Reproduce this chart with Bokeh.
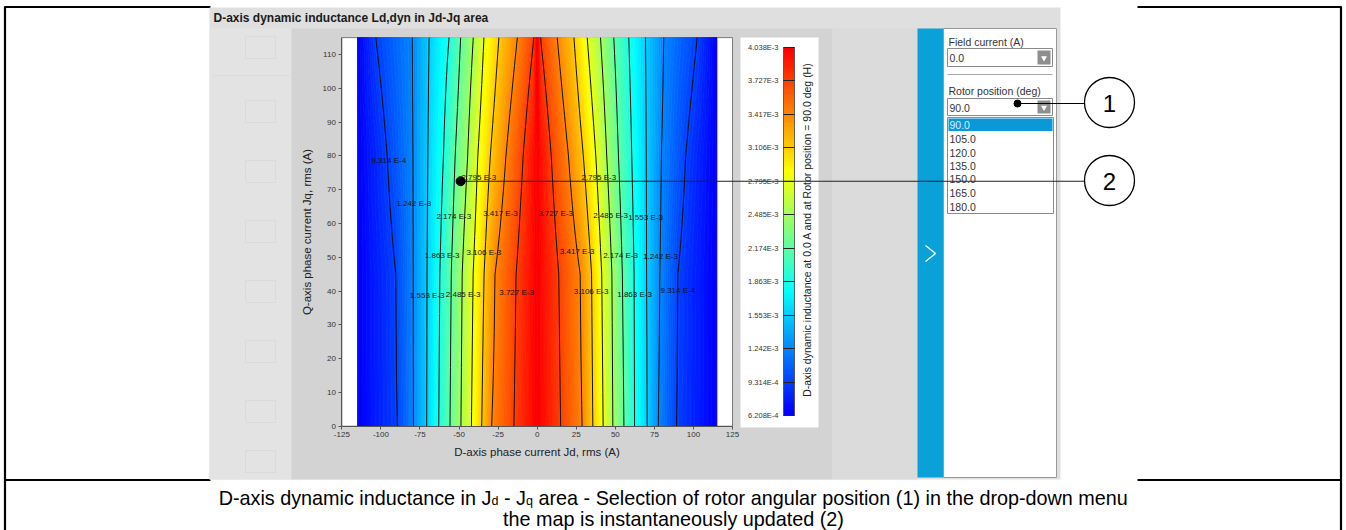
import numpy as np
from bokeh.plotting import figure
from bokeh.models import (Range1d, LinearAxis, FixedTicker, CustomJSTickFormatter,
                          LinearColorMapper, ColumnDataSource)
from bokeh.transform import linear_cmap
from bokeh.plotting.contour import contour_data
from bokeh.core.properties import value
from bokeh.embed import file_html
from bokeh.resources import INLINE

# ----------------------------- data -----------------------------
chart_title = "D-axis dynamic inductance Ld,dyn in Jd-Jq area"
x_label = "D-axis phase current Jd, rms (A)"
y_label = "Q-axis phase current Jq, rms (A)"
cb_label = "D-axis dynamic inductance at 0.0 A and at Rotor position = 90.0 deg (H)"

jd_ticks = [-125, -100, -75, -50, -25, 0, 25, 50, 75, 100, 125]
jq_ticks = [0, 10, 20, 30, 40, 50, 60, 70, 80, 90, 100, 110]

cb_levels = [6.208e-4, 9.314e-4, 1.242e-3, 1.553e-3, 1.863e-3, 2.174e-3,
             2.485e-3, 2.795e-3, 3.106e-3, 3.417e-3, 3.727e-3, 4.038e-3]
line_levels = cb_levels[1:-1]

jd_min, jd_max = -115.0, 115.0
jq_rows = [0.0, 45.0, 80.0, 115.0]
# Jd where each contour line (in line_levels order, outer -> inner) crosses each row
left_cross = [
    [-89.5, -79.2, -70.7, -63.0, -55.8, -48.8, -42.1, -35.5, -29.2, -14.9],
    [-90.5, -79.3, -70.5, -62.3, -55.0, -48.0, -41.0, -34.0, -27.0, -13.5],
    [-96.0, -79.5, -70.0, -60.0, -52.5, -44.5, -38.0, -30.0, -20.0, -9.0],
    [-103.3, -79.9, -69.2, -56.4, -49.0, -40.9, -34.1, -24.5, -12.7, -2.1],
]
right_cross = [
    [89.1, 77.5, 70.4, 62.3, 55.5, 48.4, 42.2, 35.6, 28.8, 15.0],
    [90.0, 78.5, 70.0, 62.0, 54.5, 47.8, 41.3, 34.8, 27.5, 13.8],
    [95.0, 79.5, 69.8, 60.5, 52.0, 44.5, 37.5, 29.5, 20.0, 9.0],
    [102.4, 81.0, 69.3, 58.6, 49.0, 40.5, 32.0, 23.5, 12.8, 2.1],
]
edge_value = [6.208e-4, 6.208e-4, 6.208e-4, 6.208e-4]
ridge_value = [4.038e-3, 4.038e-3, 4.038e-3, 4.038e-3]

label_jd = [-95.0, -37.4, 39.4, -79.0, -53.4, -23.5, 11.7, 46.9, 69.3, -60.8,
            -34.2, 25.6, 53.3, 78.9, -70.4, -47.4, -13.2, 34.5, 62.3, 90.0]
label_jq = [78.6, 73.7, 73.7, 65.8, 62.2, 63.0, 63.0, 62.4, 61.7, 50.5,
            51.5, 51.8, 50.5, 50.3, 38.7, 39.0, 39.7, 39.9, 39.0, 40.2]
label_text = ["9.314 E-4", "2.795 E-3", "2.795 E-3", "1.242 E-3", "2.174 E-3",
              "3.417 E-3", "3.727 E-3", "2.485 E-3", "1.553 E-3", "1.863 E-3",
              "3.106 E-3", "3.417 E-3", "2.174 E-3", "1.242 E-3", "1.553 E-3",
              "2.485 E-3", "3.727 E-3", "3.106 E-3", "1.863 E-3", "9.314 E-4"]

sel_jd, sel_jq = -49.0, 72.5

field_label = "Field current (A)"
field_value = "0.0"
rotor_label = "Rotor position (deg)"
rotor_value = "90.0"
rotor_options = ["90.0", "105.0", "120.0", "135.0", "150.0", "165.0", "180.0"]

cap1_a = "D-axis dynamic inductance in J"
cap1_sub1 = "d"
cap1_b = " - J"
cap1_sub2 = "q"
cap1_c = " area - Selection of rotor angular position (1) in the drop-down menu"
cap2 = "the map is instantaneously updated (2)"

# ----------------------------- layout constants -----------------------------
W, H = 1346, 530
SX, X0 = 1.5627, 536.7      # px per A, pixel column of Jd = 0
SY, Y0 = 3.379, 425.7       # px per A, pixel row of Jq = 0
CB_LO_PX, CB_HI_PX = 415.0, 47.0
SC = (CB_LO_PX - CB_HI_PX) / (cb_levels[-1] - cb_levels[0])
FONT = "Liberation Sans"

def jet(u):
    r = min(max(1.5 - abs(4 * u - 3), 0), 1)
    g = min(max(1.5 - abs(4 * u - 2), 0), 1)
    b = min(max(1.5 - abs(4 * u - 1), 0), 1)
    return "#%02x%02x%02x" % (int(r * 255), int(g * 255), int(b * 255))

palette = [jet(0.12 + 0.76 * i / 255) for i in range(256)]
lo, hi = cb_levels[0], cb_levels[-1]

p = figure(width=W, height=H, x_range=Range1d(0, W), y_range=Range1d(H, 0),
           output_backend="svg", toolbar_location=None, tools="",
           x_axis_location=None, y_axis_location=None, min_border=0,
           outline_line_color=None, background_fill_color="white",
           border_fill_color="white")
p.grid.visible = False
p.extra_x_ranges = {"jd": Range1d(-X0 / SX, (W - X0) / SX)}
p.extra_y_ranges = {"jq": Range1d((Y0 - H) / SY, Y0 / SY),
                    "cb": Range1d(lo - (H - CB_LO_PX) / SC, lo + CB_LO_PX / SC)}

def txt(x, y, s, size, color="#222222", align="left", baseline="middle", style="normal", angle=0.0, **kw):
    p.text(x=x, y=y, text=s, text_font=value(FONT), text_font_size=size,
           text_color=color, text_align=align, text_baseline=baseline,
           text_font_style=style, angle=angle, **kw)

# ----------------------------- document frame -----------------------------
p.segment(x0=[4, 1137, 4.5, 1340.5, 4, 1137], y0=[6.5, 6.5, 6, 6, 479.5, 479.5],
          x1=[210, 1341, 4.5, 1340.5, 210, 1341], y1=[6.5, 6.5, 530, 530, 479.5, 479.5],
          line_color="black", line_width=2.2)

# ----------------------------- screenshot background -----------------------------
p.quad(left=[209, 209, 291, 832], right=[1060, 291, 832, 917],
       top=[7, 28, 28, 28], bottom=[479, 479, 479, 479],
       fill_color=["#dfdfdf", "#e3e3e3", "#d3d3d3", "#dbdbdb"], line_color=None)
txt([213], [17.5], [chart_title], "12px", color="#1a1a1a", style="bold")

# faint ghost icons of the hidden tool panel
ghost_y = [48, 112, 172, 232, 292, 352, 412, 462]
p.quad(left=[245] * 8, right=[275] * 8, top=[g - 12 for g in ghost_y],
       bottom=[g + 10 for g in ghost_y], fill_color=None, line_color="#dadada", line_width=1)
p.segment(x0=[212], y0=[75], x1=[289], y1=[75], line_color="#dbdbdb", line_width=1)

# colour-bar box
p.quad(left=[740], right=[818], top=[37], bottom=[427], fill_color="white", line_color=None)

# chart frame (white plotting area)
p.quad(left=[-125], right=[125], bottom=[0], top=[115], fill_color="white",
       line_color="#7a7a7a", line_width=1, x_range_name="jd", y_range_name="jq")

# ----------------------------- contour map -----------------------------
xs = np.linspace(jd_min, jd_max, 461)
ys = np.array(jq_rows)
z = np.array([np.interp(xs, [jd_min] + lc + [0.0] + rc[::-1] + [jd_max],
                        [ev] + line_levels + [rv] + line_levels[::-1] + [ev])
              for lc, rc, ev, rv in zip(left_cross, right_cross, edge_value, ridge_value)])

fill_levels = np.linspace(6.0e-4, 4.06e-3, 110)
fd = contour_data(xs, ys, z, fill_levels, want_fill=True, want_line=False).fill_data
mid = (np.asarray(fd.lower_levels) + np.asarray(fd.upper_levels)) / 2
fsrc = ColumnDataSource(dict(xs=fd.xs, ys=fd.ys, mid=mid))
cmap = linear_cmap("mid", palette, lo, hi)
p.multi_polygons(xs="xs", ys="ys", source=fsrc, fill_color=cmap, line_color=cmap,
                 line_width=0.8, x_range_name="jd", y_range_name="jq")

ld = contour_data(xs, ys, z, line_levels, want_fill=False, want_line=True).line_data
p.multi_line(xs=list(ld.xs), ys=list(ld.ys), line_color="#111111", line_width=1.0,
             x_range_name="jd", y_range_name="jq")

txt(label_jd, label_jq, label_text, "8px", color="#111111", align="center",
    x_range_name="jd", y_range_name="jq")

# chart axes
plain = CustomJSTickFormatter(code="return tick.toString();")

def style_axis(ax, tick_fs, label_fs):
    ax.major_label_text_font = FONT
    ax.major_label_text_font_size = tick_fs
    ax.major_label_text_color = "#333333"
    ax.axis_label_text_font = FONT
    ax.axis_label_text_font_size = label_fs
    ax.axis_label_text_font_style = "normal"
    ax.axis_label_text_color = "#222222"
    ax.minor_tick_line_color = None
    ax.major_tick_in = 0
    ax.major_tick_out = 3
    ax.axis_line_color = "#555555"
    ax.major_tick_line_color = "#555555"

xaxis = LinearAxis(x_range_name="jd", y_range_name="jq", fixed_location=0,
                   bounds=(-125, 125), ticker=FixedTicker(ticks=jd_ticks),
                   formatter=plain, axis_label=x_label)
style_axis(xaxis, "8px", "11.5px")
xaxis.major_label_standoff = 3
xaxis.axis_label_standoff = 5
p.add_layout(xaxis, "below")

yaxis = LinearAxis(x_range_name="jd", y_range_name="jq", fixed_location=-125,
                   bounds=(0, 115), ticker=FixedTicker(ticks=jq_ticks),
                   formatter=plain, axis_label=y_label)
style_axis(yaxis, "8px", "11.5px")
yaxis.major_label_standoff = 3
yaxis.axis_label_standoff = 6
p.add_layout(yaxis, "left")

# ----------------------------- colour bar -----------------------------
mapper = LinearColorMapper(palette=palette, low=lo, high=hi)
grad = np.linspace(lo, hi, 256).reshape(-1, 1)
p.image(image=[grad], x=783, y=lo, dw=11, dh=hi - lo, color_mapper=mapper,
        y_range_name="cb")
p.quad(left=[783], right=[794], bottom=[lo], top=[hi], fill_color=None,
       line_color="#444444", line_width=0.8, y_range_name="cb")
cbaxis = LinearAxis(y_range_name="cb", fixed_location=783, bounds=(lo, hi),
                    ticker=FixedTicker(ticks=cb_levels),
                    formatter=CustomJSTickFormatter(code="""
                        const e = Math.floor(Math.log10(tick) + 1e-9);
                        const m = tick / Math.pow(10, e);
                        return m.toFixed(3) + "E" + e;"""))
style_axis(cbaxis, "7.5px", "10px")
cbaxis.major_tick_in = 11
cbaxis.major_tick_out = 0
cbaxis.major_label_standoff = 5
cbaxis.axis_line_color = None
cbaxis.major_tick_line_color = "#222222"
cbaxis.major_tick_line_width = 1.2
p.add_layout(cbaxis, "left")
txt([806], [229], [cb_label], "10.5px", color="#222222", align="center", angle=np.pi / 2)

# ----------------------------- side panel -----------------------------
p.quad(left=[917], right=[943], top=[28], bottom=[477], fill_color="#0aa0d8", line_color=None)
p.line(x=[925, 935, 925], y=[245, 253, 261], line_color="white", line_width=1.3)
p.quad(left=[943], right=[1056], top=[28], bottom=[477], fill_color="white",
       line_color="#9a9a9a", line_width=1)
p.quad(left=[947, 947, 947], right=[1052, 1052, 1053], top=[48, 98, 117],
       bottom=[66, 115, 213], fill_color="white", line_color="#8a8a8a", line_width=1)
p.quad(left=[1037, 1037], right=[1050, 1050], top=[50, 100], bottom=[64, 113],
       fill_color="#8f8f8f", line_color=None)
p.scatter(x=[1043.5, 1043.5], y=[57.5, 107], marker="inverted_triangle", size=6,
          fill_color="white", line_color=None)
p.segment(x0=[947], y0=[74], x1=[1052], y1=[74], line_color="#a8a8a8", line_width=1)
p.quad(left=[948], right=[1052], top=[118], bottom=[130.5], fill_color="#0a98d8", line_color=None)
txt([948, 949, 948, 949], [41, 57.5, 90, 107],
    [field_label, field_value, rotor_label, rotor_value], "10.5px", color="#333333")
opt_y = [124, 138, 152, 165, 178, 192, 206]
opt_col = ["#d8eef9"] + ["#333333"] * (len(rotor_options) - 1)
txt([949] * len(rotor_options), opt_y, rotor_options, "10.5px", color=opt_col)

# ----------------------------- callouts -----------------------------
p.segment(x0=[1017], y0=[103], x1=[1084], y1=[103], line_color="black", line_width=1.1)
p.scatter(x=[1017], y=[103], size=7, fill_color="black", line_color="black")
p.segment(x0=[sel_jd], y0=[sel_jq], x1=[(1084 - X0) / SX], y1=[sel_jq],
          line_color="#222222", line_width=1.1, x_range_name="jd", y_range_name="jq")
p.scatter(x=[sel_jd], y=[sel_jq], size=9, fill_color="black", line_color="black",
          x_range_name="jd", y_range_name="jq")
p.scatter(x=[1109, 1109], y=[102, 180], size=50, fill_color="white",
          line_color="black", line_width=1.3)
txt([1109, 1109], [103, 181], ["1", "2"], "24px", color="black", align="center")

# ----------------------------- caption -----------------------------
AW = {' ': 278, '-': 333, '(': 333, ')': 333, '1': 556, '2': 556, 'D': 722, 'J': 500,
      'S': 667, 'a': 556, 'c': 500, 'd': 556, 'e': 556, 'f': 278, 'g': 556, 'h': 556,
      'i': 222, 'l': 222, 'm': 833, 'n': 556, 'o': 556, 'p': 556, 'q': 556, 'r': 333,
      's': 500, 't': 278, 'u': 556, 'w': 722, 'x': 500, 'y': 500, '.': 278}

def tw(s, fs):
    return sum(AW.get(c, 556) for c in s) * fs / 1000.0

CAP_FS, SUB_FS = 19.8, 12.5
pieces = [(cap1_a, False), (cap1_sub1, True), (cap1_b, False), (cap1_sub2, True), (cap1_c, False)]
total = sum(tw(s, SUB_FS if sub else CAP_FS) for s, sub in pieces)
cx = W / 2 - total / 2
main_x, main_t, sub_x, sub_t = [], [], [], []
for s, sub in pieces:
    fs = SUB_FS if sub else CAP_FS
    lead = len(s) - len(s.lstrip(" "))
    if sub:
        sub_x.append(cx); sub_t.append(s)
    else:
        main_x.append(cx + tw(" " * lead, fs)); main_t.append(s.strip(" "))
    cx += tw(s, fs)
txt(main_x, [497] * len(main_x), main_t, "%.1fpx" % CAP_FS, color="black", baseline="alphabetic")
txt(sub_x, [500.5] * len(sub_x), sub_t, "%.1fpx" % SUB_FS, color="black", baseline="alphabetic")
txt([W / 2], [518], [cap2], "%.1fpx" % CAP_FS, color="black", align="center", baseline="alphabetic")

open("out.html", "w").write(file_html(p, INLINE))
